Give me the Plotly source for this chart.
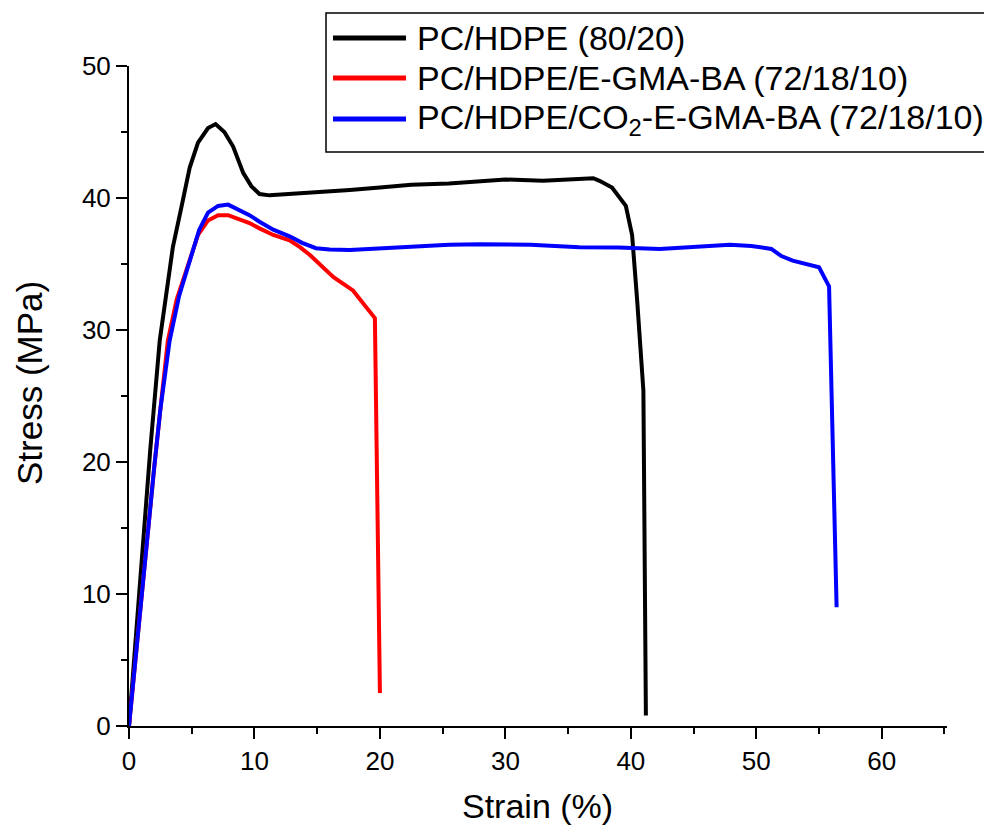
import plotly.graph_objects as go

# PC/HDPE (80/20)
strain_pc_hdpe = [0, 0.5, 1.0, 1.7, 2.45, 3.0, 3.5, 4.2, 4.84, 5.5, 6.3, 6.9, 7.6, 8.3, 9.1, 9.75,
                  10.4, 11.2, 13, 15, 17.6, 20, 22.5, 25.5, 28, 30, 33, 35.9, 37, 37.5, 38.5, 39.6,
                  40.1, 40.5, 41.0, 41.2]
stress_pc_hdpe = [0, 6.2, 12.5, 21, 29.2, 33, 36.3, 39.4, 42.3, 44.2, 45.3, 45.6, 45.0, 43.9, 41.9, 40.9,
                  40.3, 40.2, 40.3, 40.4, 40.6, 40.8, 41.0, 41.1, 41.3, 41.4, 41.3, 41.5, 41.5, 41.3, 40.8, 39.4,
                  37.2, 32.3, 25.4, 0.8]

# PC/HDPE/E-GMA-BA (72/18/10)
strain_egma = [0, 0.5, 1.25, 2.0, 2.5, 3.1, 3.8, 4.7, 5.5, 6.3, 7.1, 7.9, 8.96, 9.6, 10.4, 11.5,
               12.8, 13.6, 14.4, 15.3, 16.3, 17.85, 18.5, 19.45, 19.6, 20.0]
stress_egma = [0, 5, 12.5, 19.5, 24, 29.2, 32.3, 34.8, 37.2, 38.3, 38.7, 38.7, 38.3, 38.1, 37.7, 37.2,
               36.8, 36.3, 35.7, 34.9, 34.0, 33.0, 32.2, 31.0, 30.9, 2.5]

# PC/HDPE/CO2-E-GMA-BA (72/18/10)
strain_co2 = [0, 0.5, 1.25, 2.0, 2.5, 3.24, 4.0, 4.84, 5.6, 6.3, 7.1, 7.9, 8.96, 9.6, 10.4, 11.5,
              12.8, 13.8, 14.9, 16, 17.6, 20, 22.5, 25.5, 28, 32, 35.9, 39, 42.3, 45, 47.9, 49.6,
              51.2, 52.0, 52.9, 55.0, 55.8, 56.4]
stress_co2 = [0, 5, 12.5, 19.5, 24, 29.2, 32.6, 35.3, 37.6, 38.9, 39.4, 39.5, 39.0, 38.7, 38.2, 37.6,
              37.1, 36.6, 36.2, 36.1, 36.07, 36.2, 36.35, 36.45, 36.5, 36.45, 36.27, 36.25, 36.14, 36.3, 36.45, 36.37,
              36.14, 35.6, 35.25, 34.75, 33.3, 9.0]

names = ["PC/HDPE (80/20)",
         "PC/HDPE/E-GMA-BA (72/18/10)",
         "PC/HDPE/CO<sub>2</sub>-E-GMA-BA (72/18/10)"]
colors = ["#000000", "#FF0000", "#0000FF"]
x_title = "Strain (%)"
y_title = "Stress (MPa)"

FONT = "Arial, Liberation Sans, sans-serif"

fig = go.Figure()
for xs, ys, nm, c in [(strain_pc_hdpe, stress_pc_hdpe, names[0], colors[0]),
                      (strain_egma, stress_egma, names[1], colors[1]),
                      (strain_co2, stress_co2, names[2], colors[2])]:
    fig.add_trace(go.Scatter(x=xs, y=ys, mode="lines", name=nm,
                             line=dict(color=c, width=4), showlegend=False))

# page body has an 8px margin; figure drawn 8px in from the window edge
OFF = 8
W, H = 984, 824
L, T = 121, 58
pw, ph = 818, 660
R = W - L - pw
B = H - T - ph

PX0 = OFF + L          # page x of plot left
PY0 = OFF + T + ph     # page y of plot bottom


def px2x(px):
    return (px - PX0) / pw


def py2y(py):
    return (PY0 - py) / ph


# manual legend box
fig.add_shape(type="rect", xref="paper", yref="paper",
              x0=px2x(326), x1=px2x(990), y0=py2y(152), y1=py2y(13),
              line=dict(color="black", width=1.5), fillcolor="white", layer="above")
rows = [38, 78, 119]
for r, nm, c in zip(rows, names, colors):
    fig.add_shape(type="line", xref="paper", yref="paper",
                  x0=px2x(333), x1=px2x(406), y0=py2y(r), y1=py2y(r),
                  line=dict(color=c, width=5), layer="above")
    fig.add_annotation(xref="paper", yref="paper", x=px2x(415), y=py2y(r),
                       text=nm, showarrow=False, xanchor="left", yanchor="middle",
                       font=dict(family=FONT, size=34, color="black"))

# axis titles
fig.add_annotation(xref="paper", yref="paper", x=px2x(537), y=py2y(806),
                   text=x_title, showarrow=False, xanchor="center", yanchor="middle",
                   font=dict(family=FONT, size=34, color="black"))
fig.add_annotation(xref="paper", yref="paper", x=px2x(29), y=py2y(383),
                   text=y_title, showarrow=False, xanchor="center", yanchor="middle",
                   textangle=-90, font=dict(family=FONT, size=35, color="black"))

axis_common = dict(showline=True, linecolor="black", linewidth=2, ticks="outside",
                   ticklen=11, tickwidth=2, tickcolor="black", showgrid=False, zeroline=False,
                   tickfont=dict(family=FONT, size=26, color="black"), mirror=False)

fig.update_xaxes(range=[0, 65.2], tickvals=[0, 10, 20, 30, 40, 50, 60],
                 minor=dict(tickvals=[5, 15, 25, 35, 45, 55, 65], ticklen=6, tickwidth=2,
                            tickcolor="black", ticks="outside"),
                 **axis_common)
fig.update_yaxes(range=[0, 50], tickvals=[0, 10, 20, 30, 40, 50],
                 minor=dict(tickvals=[5, 15, 25, 35, 45], ticklen=6, tickwidth=2,
                            tickcolor="black", ticks="outside"),
                 **axis_common)

fig.update_layout(width=W, height=H, margin=dict(l=L, r=R, t=T, b=B),
                  plot_bgcolor="white", paper_bgcolor="white", showlegend=False)

fig.write_html("out.html")
